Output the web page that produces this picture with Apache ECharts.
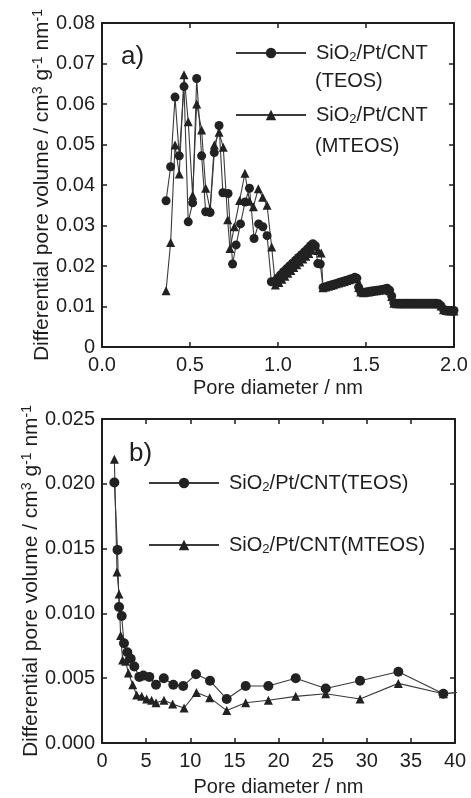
<!DOCTYPE html>
<html><head><meta charset="utf-8">
<script src="https://cdn.jsdelivr.net/npm/echarts@6/dist/echarts.min.js"></script>
<style>html,body{margin:0;padding:0;background:#fff}#c{width:471px;height:798px}</style>
</head><body><div id="c"></div>
<script>
// ---- Panel a data (pore diameter nm, differential pore volume) ----
var aTeosX = [0.364,0.390,0.415,0.439,0.466,0.490,0.515,0.538,0.566,0.589,0.614,0.638,0.665,0.687,0.716,0.742,0.762,0.787,0.813,0.838,0.864,0.890,0.914,0.938,0.962,
  0.980,0.997,1.014,1.031,1.048,1.065,1.082,1.099,1.116,1.133,1.150,1.167,1.184,1.198,1.212,1.226,1.240,
  1.256,1.271,1.286,1.301,1.316,1.331,1.346,1.361,1.376,1.391,1.406,1.421,1.436,1.448,1.458,1.470,1.485,1.500,1.515,1.530,1.545,1.560,1.575,1.590,1.605,1.620,1.634,1.646,
  1.658,1.673,1.688,1.703,1.718,1.733,1.748,1.763,1.778,1.793,1.808,1.823,1.838,1.853,1.868,1.883,1.898,1.913,1.926,1.940,1.955,1.970,1.985,2.000];
var aTeosY = [0.0361,0.0445,0.0617,0.0472,0.0643,0.0309,0.0356,0.0663,0.0472,0.0334,0.0332,0.0480,0.0547,0.0381,0.0379,0.0205,0.0252,0.0304,0.0358,0.0392,0.0268,0.0304,0.0297,0.0275,0.0161,
  0.0162,0.0170,0.0178,0.0186,0.0193,0.0200,0.0207,0.0214,0.0221,0.0228,0.0235,0.0242,0.0250,0.0255,0.0250,0.0206,0.0205,
  0.0147,0.0149,0.0151,0.0153,0.0155,0.0157,0.0159,0.0161,0.0163,0.0165,0.0167,0.0169,0.0172,0.0170,0.0148,0.0137,0.0135,0.0136,0.0137,0.0138,0.0139,0.0140,0.0141,0.0142,0.0143,0.0145,0.0140,0.0126,
  0.0109,0.0108,0.0108,0.0108,0.0108,0.0108,0.0108,0.0108,0.0108,0.0108,0.0108,0.0108,0.0108,0.0108,0.0108,0.0108,0.0108,0.0107,0.0102,0.0093,0.0091,0.0090,0.0090,0.0090];
var aMteosX = [0.364,0.390,0.415,0.439,0.466,0.490,0.515,0.538,0.566,0.589,0.614,0.638,0.665,0.689,0.714,0.727,0.752,0.782,0.812,0.838,0.860,0.888,0.913,0.938,0.964,0.985,
  1.005,1.022,1.039,1.056,1.073,1.090,1.107,1.124,1.141,1.158,1.175,1.192,1.208,1.228,1.245,
  1.256,1.271,1.286,1.301,1.316,1.331,1.346,1.361,1.376,1.391,1.406,1.421,1.436,1.448,1.458,1.470,1.485,1.500,1.515,1.530,1.545,1.560,1.575,1.590,1.605,1.620,1.634,1.646,
  1.658,1.673,1.688,1.703,1.718,1.733,1.748,1.763,1.778,1.793,1.808,1.823,1.838,1.853,1.868,1.883,1.898,1.913,1.926,1.940,1.955,1.970,1.985,2.000];
var aMteosY = [0.0139,0.0258,0.0499,0.0427,0.0672,0.0556,0.0375,0.0600,0.0536,0.0392,0.0340,0.0499,0.0530,0.0493,0.0314,0.0243,0.0297,0.0362,0.0429,0.0360,0.0346,0.0391,0.0370,0.0350,0.0247,0.0153,
  0.0159,0.0167,0.0175,0.0182,0.0189,0.0196,0.0203,0.0210,0.0217,0.0224,0.0231,0.0239,0.0249,0.0238,0.0232,
  0.0146,0.0148,0.0150,0.0152,0.0154,0.0156,0.0158,0.0160,0.0162,0.0164,0.0166,0.0168,0.0171,0.0169,0.0147,0.0136,0.0134,0.0135,0.0136,0.0137,0.0138,0.0139,0.0140,0.0141,0.0142,0.0144,0.0139,0.0125,
  0.0108,0.0107,0.0107,0.0107,0.0107,0.0107,0.0107,0.0107,0.0107,0.0107,0.0107,0.0107,0.0107,0.0107,0.0107,0.0107,0.0107,0.0106,0.0101,0.0092,0.0090,0.0089,0.0089,0.0089];

// ---- Panel b data ----
var bTeosX = [1.40,1.76,1.93,2.23,2.49,2.87,3.25,3.66,4.23,4.68,5.36,6.12,7.00,8.08,9.20,10.65,12.24,14.13,16.28,18.85,21.95,25.35,29.24,33.58,38.68,42.0];
var bTeosY = [0.0201,0.0149,0.0105,0.0098,0.0077,0.0070,0.0065,0.0059,0.0051,0.0052,0.0051,0.0045,0.0050,0.0045,0.0044,0.0053,0.0048,0.0034,0.0044,0.0044,0.0050,0.0042,0.0048,0.0055,0.0038,0.0040];
var bMteosX = [1.40,1.70,1.93,2.11,2.34,2.68,2.99,3.48,3.93,4.50,5.06,5.62,6.12,7.02,8.00,9.30,10.70,12.20,14.13,16.28,18.85,21.95,25.35,29.24,33.58,38.68,42.0];
var bMteosY = [0.0219,0.0132,0.0115,0.0083,0.0064,0.0063,0.0054,0.0045,0.0037,0.0036,0.0034,0.0033,0.0031,0.0033,0.0030,0.0027,0.0039,0.0035,0.0025,0.0031,0.0033,0.0036,0.0038,0.0034,0.0046,0.0038,0.0040];

// ---- axis ticks ----
var aXTicks = {min:0, max:2, interval:0.5};
var aYTicks = {min:0, max:0.08, interval:0.01};
var bXTicks = {min:0, max:40, interval:5};
var bYTicks = {min:0, max:0.025, interval:0.005};

function pairs(xs, ys){ return xs.map(function(x,i){return [x, ys[i]];}); }

var FONT = 'Liberation Sans, Arial, sans-serif';
var INK = '#1e1e1e';
var richName = {
  a:{fontSize:21, fontFamily:FONT, color:INK},
  sup:{fontSize:14, fontFamily:FONT, color:INK, verticalAlign:'top', padding:[0,0,8,0]}
};
var yName = '{a|Differential pore volume / cm}{sup|3}{a| g}{sup|-1}{a| nm}{sup|-1}';

function xAx(grid, t, fmt, gap){
  return [{
    gridIndex:grid, type:'value', min:t.min, max:t.max, interval:t.interval, position:'bottom',
    axisLine:{onZero:false, lineStyle:{color:INK, width:2}},
    axisTick:{inside:true, length:5, lineStyle:{color:INK, width:1.5}},
    axisLabel:{formatter:fmt, fontSize:20, fontFamily:FONT, color:INK, margin:8, showMaxLabel:true},
    splitLine:{show:false},
    name:'Pore diameter / nm', nameLocation:'middle', nameGap:gap, nameMoveOverlap:false,
    nameTextStyle:{fontSize:20, fontFamily:FONT, color:INK}
  },{
    gridIndex:grid, type:'value', min:t.min, max:t.max, interval:t.interval, position:'top',
    axisLine:{onZero:false, lineStyle:{color:INK, width:2}},
    axisTick:{inside:true, length:5, lineStyle:{color:INK, width:1.5}},
    axisLabel:{show:false}, splitLine:{show:false}
  }];
}
function yAx(grid, t, fmt, gap){
  return [{
    gridIndex:grid, type:'value', min:t.min, max:t.max, interval:t.interval, position:'left',
    axisLine:{onZero:false, lineStyle:{color:INK, width:2}},
    axisTick:{inside:true, length:5, lineStyle:{color:INK, width:1.5}},
    axisLabel:{formatter:fmt, fontSize:20, fontFamily:FONT, color:INK, margin:7},
    splitLine:{show:false},
    name:yName, nameLocation:'middle', nameRotate:90, nameGap:gap, nameMoveOverlap:false,
    nameTextStyle:{rich:richName}
  },{
    gridIndex:grid, type:'value', min:t.min, max:t.max, interval:t.interval, position:'right',
    axisLine:{onZero:false, lineStyle:{color:INK, width:2}},
    axisTick:{inside:true, length:5, lineStyle:{color:INK, width:1.5}},
    axisLabel:{show:false}, splitLine:{show:false}
  }];
}

function ser(name, xi, yi, pts, sym, size){
  return {
    name:name, type:'line', xAxisIndex:xi, yAxisIndex:yi, data:pts,
    symbol:sym, symbolSize:size, showAllSymbol:true, clip:true,
    lineStyle:{color:'#3a3a3a', width:1.1},
    itemStyle:{color:'#222', borderWidth:0}
  };
}

var legendRich = {
  a:{fontSize:20, fontFamily:FONT, color:INK},
  sub:{fontSize:13, fontFamily:FONT, color:INK, verticalAlign:'bottom', padding:[8,0,0,0]}
};
var labelMap = {
  'TEOS_a':'{a|SiO}{sub|2}{a|/Pt/CNT}',
  'MTEOS_a':'{a|SiO}{sub|2}{a|/Pt/CNT}',
  'TEOS_b':'{a|SiO}{sub|2}{a|/Pt/CNT(TEOS)}',
  'MTEOS_b':'{a|SiO}{sub|2}{a|/Pt/CNT(MTEOS)}'
};

var chart = echarts.init(document.getElementById('c'), null, {renderer:'canvas'});
chart.setOption({
  animation:false,
  backgroundColor:'#fff',
  grid:[
    {left:102, top:23, width:352, height:324},
    {left:102, top:419, width:353, height:326}
  ],
  xAxis: xAx(0, aXTicks, function(v){return v.toFixed(1);}, 31).concat(
         xAx(1, bXTicks, function(v){return String(Math.round(v));}, 34)),
  yAxis: yAx(0, aYTicks, function(v){return v===0?'0':v.toFixed(2);}, 49).concat(
         yAx(1, bYTicks, function(v){return v.toFixed(3);}, 60)),
  legend:[
    {data:['TEOS_a','MTEOS_a'], orient:'vertical', left:235, top:42, padding:0, itemWidth:70, itemHeight:13, itemGap:40,
     formatter:function(n){return labelMap[n];}, textStyle:{rich:legendRich, lineHeight:22, padding:[0,0,0,5]}, selectedMode:false},
    {data:['TEOS_b','MTEOS_b'], orient:'vertical', left:148, top:472, padding:0, itemWidth:70, itemHeight:13, itemGap:40,
     formatter:function(n){return labelMap[n];}, textStyle:{rich:legendRich, lineHeight:22, padding:[0,0,0,5]}, selectedMode:false}
  ],
  graphic:[
    {type:'text', left:121, top:44, style:{text:'a)', fontSize:26, fontFamily:FONT, fill:INK}},
    {type:'text', left:129, top:441, style:{text:'b)', fontSize:26, fontFamily:FONT, fill:INK}},
    {type:'text', left:315, top:71, style:{text:'(TEOS)', fontSize:20, fontFamily:FONT, fill:INK}},
    {type:'text', left:315, top:136, style:{text:'(MTEOS)', fontSize:20, fontFamily:FONT, fill:INK}}
  ],
  series:[
    ser('TEOS_a', 0, 0, pairs(aTeosX, aTeosY), 'circle', 9),
    ser('MTEOS_a', 0, 0, pairs(aMteosX, aMteosY), 'triangle', 9),
    ser('TEOS_b', 2, 2, pairs(bTeosX, bTeosY), 'circle', 10),
    ser('MTEOS_b', 2, 2, pairs(bMteosX, bMteosY), 'triangle', 9)
  ]
});
</script></body></html>
